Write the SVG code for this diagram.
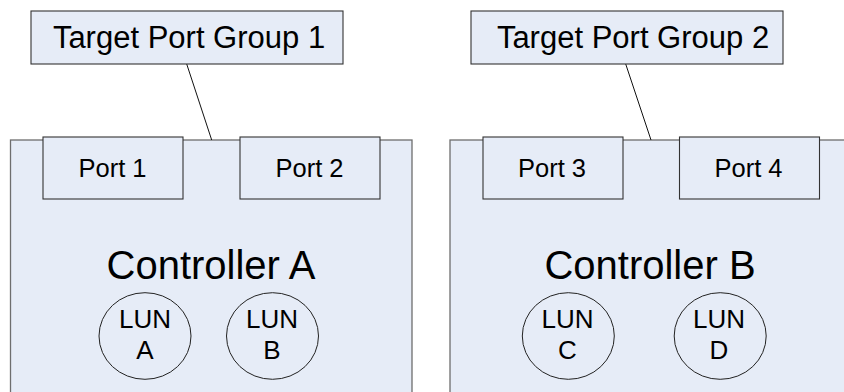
<svg xmlns="http://www.w3.org/2000/svg" width="844" height="392" viewBox="0 0 844 392">
  <style>
    .bg { fill: #ffffff; }
    .ctrl { fill: #e6ecf7; stroke: #6e6e6e; stroke-width: 1.3; }
    .box { fill: #e6ecf7; stroke: #333333; stroke-width: 1.1; }
    .lun { fill: none; stroke: #222222; stroke-width: 1; }
    .link { stroke: #111111; stroke-width: 1; fill: none; }
    text { font-family: "Liberation Sans", Arial, sans-serif; fill: #000000; text-anchor: middle; }
    .tpg { font-size: 31px; }
    .port { font-size: 25.5px; }
    .ctl { font-size: 40px; }
    .lunt { font-size: 26px; }
  </style>
  <rect class="bg" x="0" y="0" width="844" height="392"/>

  <!-- controllers (drawn first so ports sit on top) -->
  <g id="controller-a">
    <rect class="ctrl" x="10.5" y="140" width="401.5" height="260"/>
    <text class="ctl" x="211" y="279">Controller A</text>
  </g>
  <g id="controller-b">
    <rect class="ctrl" x="450" y="140" width="401" height="260"/>
    <text class="ctl" x="650" y="279">Controller B</text>
  </g>

  <!-- connectors -->
  <g id="connectors">
    <line class="link" x1="186.7" y1="64" x2="211.7" y2="140"/>
    <line class="link" x1="625.7" y1="64" x2="651" y2="140"/>
  </g>

  <g id="tpg-1">
    <rect class="box" x="31" y="11" width="312" height="53"/>
    <text class="tpg" x="189" y="48">Target Port Group 1</text>
  </g>
  <g id="tpg-2">
    <rect class="box" x="471" y="11" width="312" height="53"/>
    <text class="tpg" x="633" y="48">Target Port Group 2</text>
  </g>

  <g id="port-1">
    <rect class="box" x="43" y="137" width="140" height="62"/>
    <text class="port" x="112.5" y="177">Port 1</text>
  </g>
  <g id="port-2">
    <rect class="box" x="240" y="137" width="140" height="62"/>
    <text class="port" x="309.5" y="177">Port 2</text>
  </g>
  <g id="port-3">
    <rect class="box" x="483" y="137" width="140" height="62"/>
    <text class="port" x="552" y="177">Port 3</text>
  </g>
  <g id="port-4">
    <rect class="box" x="679.5" y="137" width="140" height="62"/>
    <text class="port" x="748.5" y="177">Port 4</text>
  </g>

  <g id="lun-a">
    <ellipse class="lun" cx="145" cy="336" rx="46" ry="43.3"/>
    <text class="lunt" x="145" y="328">LUN</text>
    <text class="lunt" x="145" y="359">A</text>
  </g>
  <g id="lun-b">
    <ellipse class="lun" cx="272.5" cy="336" rx="46" ry="43.3"/>
    <text class="lunt" x="272" y="328">LUN</text>
    <text class="lunt" x="272" y="359">B</text>
  </g>
  <g id="lun-c">
    <ellipse class="lun" cx="568.3" cy="336" rx="46" ry="43.3"/>
    <text class="lunt" x="567.5" y="328">LUN</text>
    <text class="lunt" x="567.5" y="359">C</text>
  </g>
  <g id="lun-d">
    <ellipse class="lun" cx="720.2" cy="336" rx="46" ry="43.3"/>
    <text class="lunt" x="719" y="328">LUN</text>
    <text class="lunt" x="719" y="359">D</text>
  </g>
</svg>
